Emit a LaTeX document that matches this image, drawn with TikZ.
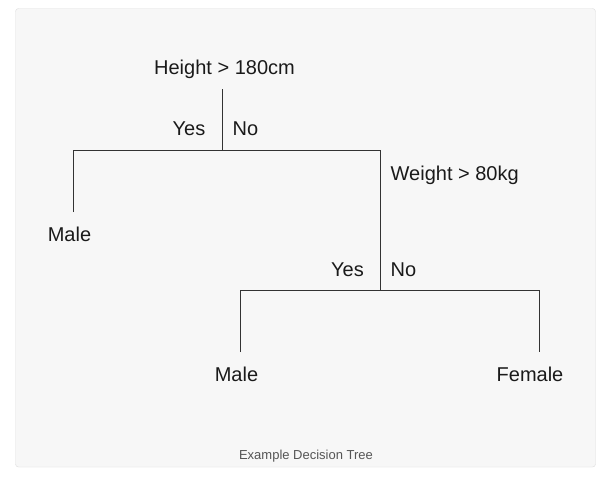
\documentclass[tikz,border=0pt]{standalone}
\usepackage{fontspec}
\setmainfont{Liberation Sans}
\definecolor{panelgray}{HTML}{F7F7F7}
\definecolor{framegray}{HTML}{DDDDDD}
\definecolor{linegray}{HTML}{333333}
\definecolor{textgray}{HTML}{1A1A1A}
\definecolor{capgray}{HTML}{555555}
\tikzset{
  lbl/.style={inner sep=0pt,font=\fontsize{20}{24}\selectfont,text=textgray},
  branch/.style={draw=linegray,line width=0.9pt}
}

\begin{document}
\begin{tikzpicture}[x=1pt,y=-1pt]
  \useasboundingbox (0,0) rectangle (616,477);
  \fill[white] (0,0) rectangle (616,477);
  \draw[framegray,fill=panelgray,rounded corners=3pt] (15.5,8.5) rectangle (595.5,467);
  % joints of the tree
  \coordinate (rootend) at (222.5,89);
  \coordinate (split1) at (222.5,150);
  \coordinate (left1) at (73,150);
  \coordinate (right1) at (380.5,150);
  \coordinate (leafA) at (73,212);
  \coordinate (split2) at (380.5,290.5);
  \coordinate (left2) at (240,290.5);
  \coordinate (right2) at (539,290.5);
  \coordinate (leafB) at (240,352);
  \coordinate (leafC) at (539,352);
  % labels
  \node[lbl,anchor=base] (height) at (224.5,74) {Height > 180cm};
  \node[lbl,anchor=base east] (yesA) at (205.5,135) {Yes};
  \node[lbl,anchor=base west] (noA) at (232.5,135) {No};
  \node[lbl,anchor=base west] (weight) at (390.5,180.5) {Weight > 80kg};
  \node[lbl,anchor=base] (maleA) at (69.5,241) {Male};
  \node[lbl,anchor=base east] (yesB) at (364,276) {Yes};
  \node[lbl,anchor=base west] (noB) at (390.5,276) {No};
  \node[lbl,anchor=base] (maleB) at (236.5,381.5) {Male};
  \node[lbl,anchor=base] (female) at (530,381.5) {Female};
  \node[inner sep=0pt,anchor=base,font=\fontsize{13}{15}\selectfont,text=capgray]
    (caption) at (306,459) {Example Decision Tree};
  % branches
  \draw[branch] (rootend) -- (split1);
  \draw[branch] (leafA) -- (left1) -- (right1) -- (split2);
  \draw[branch] (leafB) -- (left2) -- (right2) -- (leafC);
\end{tikzpicture}
\end{document}
